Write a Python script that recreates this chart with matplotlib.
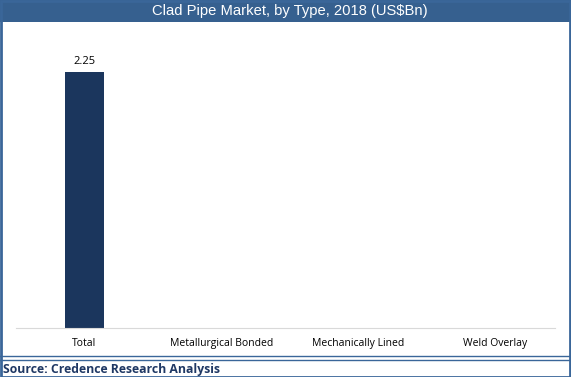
import matplotlib.pyplot as plt
from matplotlib.patches import Rectangle
from matplotlib.lines import Line2D
import numpy as np

categories = ["Total", "Metallurgical Bonded", "Mechanically Lined", "Weld Overlay"]
values = [2.25, 0, 0, 0]
labels = ["2.25", "", "", ""]

W, H = 571, 377
fig = plt.figure(figsize=(W / 100, H / 100), dpi=100)
frame_blue = "#3A6699"

# title bar
fig.patches.append(Rectangle((0, 1 - 22 / H), 1, 22 / H, transform=fig.transFigure,
                             facecolor="#36608F", edgecolor="none", zorder=0))
fig.text(290 / W, 1 - 11 / H, "Clad Pipe Market, by Type, 2018 (US$Bn)", color="white",
         ha="center", va="center", fontsize=10.6, family="Liberation Sans")

# outer frame
fig.patches.append(Rectangle((0.5 / W, 0.5 / H), 1 - 1.5 / W, 1 - 1.5 / H, transform=fig.transFigure,
                             facecolor="none", edgecolor=frame_blue, lw=2, zorder=5))
# double separator above source
for yy in (356, 359.5):
    fig.lines.append(Line2D([0, 1], [1 - yy / H, 1 - yy / H], transform=fig.transFigure,
                            color=frame_blue, lw=1))
fig.text(3 / W, 1 - 369.5 / H, "Source: Credence Research Analysis", color="#1F3864",
         ha="left", va="center", fontsize=8.8, fontweight="bold", family="Open Sans")

ax = fig.add_axes([16 / W, 1 - 328 / H, (555 - 16) / W, (328 - 44) / H])
x = np.arange(len(categories))
bars = ax.bar(x, values, width=0.29, color="#1B365D")
for xi, v, lab in zip(x, values, labels):
    if lab:
        ax.text(xi, v + 0.05, lab, ha="center", va="bottom", fontsize=8, family="Open Sans")

ax.set_xlim(-0.5, 3.44)
ax.set_ylim(0, 2.5)
ax.set_xticks(x)
ax.set_xticklabels(categories, fontsize=7.5, family="Open Sans")
ax.tick_params(axis="x", length=0, pad=7)
ax.set_yticks([])
for s in ("top", "right", "left"):
    ax.spines[s].set_visible(False)
ax.spines["bottom"].set_color("#D9D9D9")

fig.savefig("out.png", dpi=100)
